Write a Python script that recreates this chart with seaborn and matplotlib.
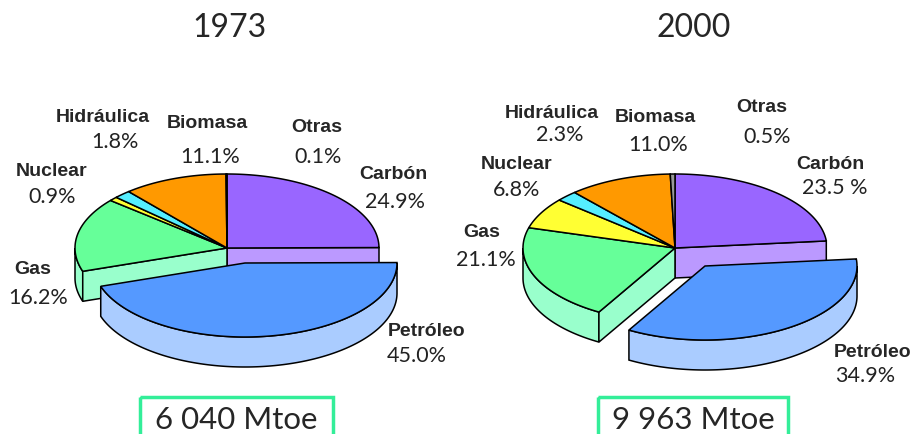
import numpy as np
import matplotlib.pyplot as plt
import seaborn as sns
from matplotlib.patches import Polygon, Rectangle

sns.set_theme(style="white")

# Data
sources = ['Carbón', 'Petróleo', 'Gas', 'Nuclear', 'Hidráulica', 'Biomasa', 'Otras']
shares_1973 = [24.9, 45.0, 16.2, 0.9, 1.8, 11.1, 0.1]
shares_2000 = [23.5, 34.9, 21.1, 6.8, 2.3, 11.0, 0.5]
pct_labels_1973 = ['24.9%', '45.0%', '16.2%', '0.9%', '1.8%', '11.1%', '0.1%']
pct_labels_2000 = ['23.5 %', '34.9%', '21.1%', '6.8%', '2.3%', '11.0%', '0.5%']
years = ['1973', '2000']
totals = ['6 040 Mtoe', '9 963 Mtoe']

# Style
top_colors = ['#9966FF', '#5599FF', '#66FF99', '#FFFF33', '#55EEFF', '#FF9900', '#999999']
side_colors = ['#BB99FF', '#AACCFF', '#99FFCC', '#FFFF99', '#AAF6FF', '#FFCC77', '#CCCCCC']
RX, RY, DEPTH = 152, 74, 30
EXPLODE = 1  # Petróleo

# pie layout: centre x, centre y, explode offset, label positions (name, pct)
layouts = [
    dict(cx=227, cy=249, off=(18, 15), title=(229, 28), box=(140, 398, 193),
         pos=[(393, 175), (427, 332), (33, 270), (52, 172), (103, 117), (207, 123), (317, 128)],
         ppos=[(395, 202), (417, 356), (38, 298), (52, 197), (115, 142), (210, 157), (318, 157)]),
    dict(cx=675, cy=249, off=(30, 18), title=(694, 28), box=(598, 398, 190),
         pos=[(830, 165), (873, 353), (482, 233), (517, 165), (552, 113), (655, 118), (762, 108)],
         ppos=[(835, 188), (865, 376), (486, 260), (517, 190), (560, 135), (658, 145), (767, 137)]),
]


def rim(cx, cy, t, dz=0.0):
    r = np.radians(t)
    return np.column_stack([cx + RX * np.cos(r), cy - RY * np.sin(r) + dz])


def arc(a, b):
    return np.linspace(a, b, max(3, int(abs(b - a) * 2)))


def side_wall(ax, cx, cy, lo, hi, color):
    a, b = max(lo, -180), min(hi, 0)
    if b <= a:
        return
    t = arc(a, b)
    pts = np.vstack([rim(cx, cy, t), rim(cx, cy, t[::-1], DEPTH)])
    ax.add_patch(Polygon(pts, closed=True, fc=color, ec='black', lw=1.1))


def cut_face(ax, cx, cy, t, color):
    p = rim(cx, cy, np.array([t]))[0]
    pts = [(cx, cy), p, (p[0], p[1] + DEPTH), (cx, cy + DEPTH)]
    ax.add_patch(Polygon(pts, closed=True, fc=color, ec='black', lw=1.1))


def top(ax, cx, cy, lo, hi, color):
    pts = np.vstack([[(cx, cy)], rim(cx, cy, arc(hi, lo))])
    ax.add_patch(Polygon(pts, closed=True, fc=color, ec='black', lw=1.1))


def draw_pie(ax, shares, lay):
    cx, cy = lay['cx'], lay['cy']
    sizes = np.array(shares) / np.sum(shares) * 360
    hi = 90 - np.concatenate([[0], np.cumsum(sizes)[:-1]])
    lo = hi - sizes
    rest = [i for i in range(len(shares)) if i != EXPLODE]
    for i in rest:
        side_wall(ax, cx, cy, lo[i], hi[i], side_colors[i])
    cut_face(ax, cx, cy, hi[EXPLODE], side_colors[EXPLODE - 1])
    cut_face(ax, cx, cy, lo[EXPLODE], side_colors[EXPLODE + 1])
    for i in rest:
        top(ax, cx, cy, lo[i], hi[i], top_colors[i])
    ex, ey = cx + lay['off'][0], cy + lay['off'][1]
    side_wall(ax, ex, ey, lo[EXPLODE], hi[EXPLODE], side_colors[EXPLODE])
    top(ax, ex, ey, lo[EXPLODE], hi[EXPLODE], top_colors[EXPLODE])


fig = plt.figure(figsize=(9.15, 4.35), dpi=100)
ax = fig.add_axes([0, 0, 1, 1])
ax.set_xlim(0, 915)
ax.set_ylim(435, 0)
ax.axis('off')

for shares, pcts, year, total, lay in zip([shares_1973, shares_2000],
                                          [pct_labels_1973, pct_labels_2000],
                                          years, totals, layouts):
    draw_pie(ax, shares, lay)
    ax.text(*lay['title'], year, ha='center', va='center', fontsize=23, family='Lato')
    for name, pct, p, q in zip(sources, pcts, lay['pos'], lay['ppos']):
        ax.text(*p, name, ha='center', va='center', fontsize=14,
                fontweight='bold', family='Liberation Sans')
        ax.text(*q, pct, ha='center', va='center', fontsize=15.5, family='Lato',
                color='#222222')
    bx, by, bw = lay['box']
    ax.add_patch(Rectangle((bx, by), bw, 60, fc='none', ec='#33EE99', lw=2.5))
    ax.text(bx + bw / 2, 420, total, ha='center', va='center', fontsize=22.5,
            family='Lato')

fig.savefig('out.png', dpi=100)
